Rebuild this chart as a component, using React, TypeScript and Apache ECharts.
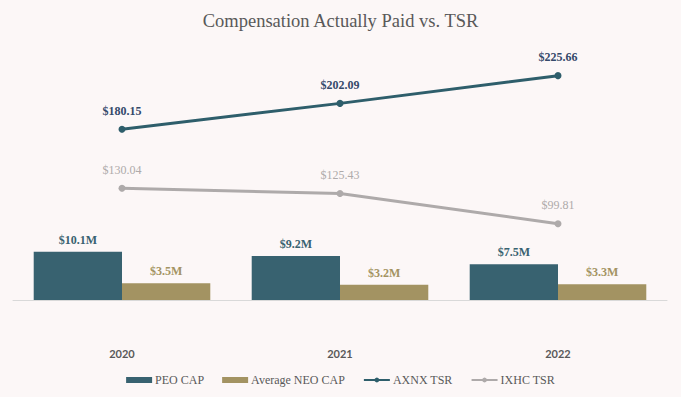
import React, { useEffect, useRef } from "react";
import * as echarts from "echarts";

const years = ["2020", "2021", "2022"];
const peoCap = [10.1, 9.2, 7.5];
const neoCap = [3.5, 3.2, 3.3];
const axnxTsr = [180.15, 202.09, 225.66];
const ixhcTsr = [130.04, 125.43, 99.81];

const SERIF = "'Liberation Serif', 'Times New Roman', serif";

export default function App() {
  const ref = useRef<HTMLDivElement>(null);
  useEffect(() => {
    if (!ref.current) return;
    const chart = echarts.init(ref.current, null, { renderer: "svg" });
    chart.setOption({
      animation: false,
      backgroundColor: "#fcf7f7",
      title: {
        text: "Compensation Actually Paid vs. TSR",
        left: "center",
        top: 6,
        textStyle: { fontFamily: SERIF, fontSize: 18.5, fontWeight: "normal", color: "#595959" },
      },
      legend: {
        bottom: 6,
        left: "center",
        itemGap: 18,
        itemWidth: 26,
        itemHeight: 6,
        textStyle: { fontFamily: SERIF, fontSize: 12, color: "#595959", padding: [0, 0, 0, -2] },
        data: [
          { name: "PEO CAP", icon: "rect" },
          { name: "Average NEO CAP", icon: "rect" },
          { name: "AXNX TSR" },
          { name: "IXHC TSR" },
        ],
      },
      grid: { left: 13, right: 14, top: 47, bottom: 97 },
      xAxis: {
        type: "category",
        data: years,
        axisLine: { lineStyle: { color: "#d9d9d9" } },
        axisTick: { show: false },
        axisLabel: {
          margin: 48,
          fontFamily: "Lato, 'Liberation Sans', sans-serif",
          fontWeight: "bold",
          fontSize: 11,
          color: "#595959",
        },
      },
      yAxis: [
        { type: "value", min: 0, max: 53, show: false, splitLine: { show: false } },
        { type: "value", min: 35, max: 250, show: false, splitLine: { show: false } },
      ],
      series: [
        {
          name: "PEO CAP",
          type: "bar",
          data: peoCap,
          yAxisIndex: 0,
          barGap: "0%",
          barCategoryGap: "19%",
          itemStyle: { color: "#386270" },
          label: {
            show: true,
            position: "top",
            distance: 6,
            formatter: (p: any) => "$" + p.value.toFixed(1) + "M",
            fontFamily: SERIF,
            fontWeight: "bold",
            fontSize: 12,
            color: "#386270",
          },
        },
        {
          name: "Average NEO CAP",
          type: "bar",
          data: neoCap,
          yAxisIndex: 0,
          itemStyle: { color: "#a39362" },
          label: {
            show: true,
            position: "top",
            distance: 6,
            formatter: (p: any) => "$" + p.value.toFixed(1) + "M",
            fontFamily: SERIF,
            fontWeight: "bold",
            fontSize: 12,
            color: "#a39362",
          },
        },
        {
          name: "AXNX TSR",
          type: "line",
          data: axnxTsr,
          yAxisIndex: 1,
          symbol: "circle",
          symbolSize: 7,
          lineStyle: { width: 3, color: "#2e5e6b" },
          itemStyle: { color: "#2e5e6b" },
          label: {
            show: true,
            position: "top",
            distance: 9,
            formatter: (p: any) => "$" + p.value.toFixed(2),
            fontFamily: SERIF,
            fontWeight: "bold",
            fontSize: 12,
            color: "#34496a",
          },
        },
        {
          name: "IXHC TSR",
          type: "line",
          data: ixhcTsr,
          yAxisIndex: 1,
          symbol: "circle",
          symbolSize: 7,
          lineStyle: { width: 3, color: "#aeaaaa" },
          itemStyle: { color: "#aeaaaa" },
          label: {
            show: true,
            position: "top",
            distance: 9,
            formatter: (p: any) => "$" + p.value.toFixed(2),
            fontFamily: SERIF,
            fontWeight: "normal",
            fontSize: 12,
            color: "#aeaaaa",
          },
        },
      ],
    });
    return () => chart.dispose();
  }, []);
  return (
    <div
      ref={ref}
      style={{ position: "absolute", left: 0, top: 0, width: 681, height: 397 }}
    />
  );
}
